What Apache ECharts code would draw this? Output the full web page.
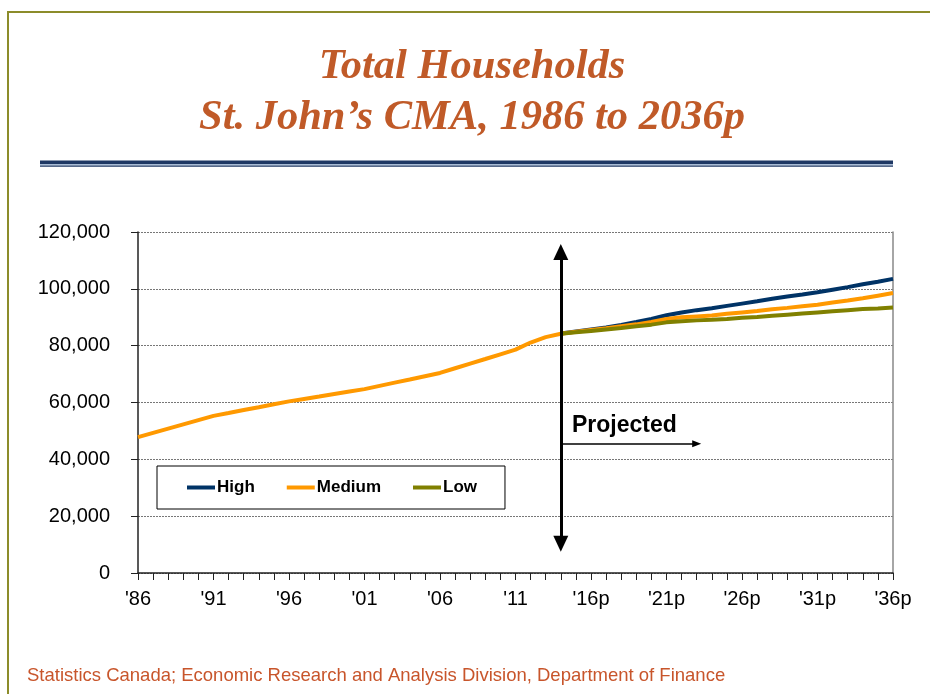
<!DOCTYPE html>
<html>
<head>
<meta charset="utf-8">
<script src="https://cdn.jsdelivr.net/npm/echarts@6/dist/echarts.min.js"></script>
<style>
    html, body { margin: 0; padding: 0; background: #fff; }
    #chart { width: 930px; height: 694px; }
</style>
</head>
<body>
<div id="chart"></div>
<script>
// years 1986..2036, one category per year
var years = [];
for (var y = 1986; y <= 2036; y++) { years.push(String(y)); }

// labels shown every 5 years
var xLabels = ["'86", "'91", "'96", "'01", "'06", "'11", "'16p", "'21p", "'26p", "'31p", "'36p"];

// Medium: history 1986-2014 + medium projection
var medium = [
    47800, 49300, 50800, 52300, 53800,            // 86-90
    55300, 56300, 57350, 58350, 59400,            // 91-95
    60400, 61250, 62100, 63000, 63850,            // 96-00
    64700, 65850, 67000, 68100, 69250,            // 01-05
    70400, 72050, 73700, 75300, 76950,            // 06-10
    78600, 81100, 83000, 84200, 84900,            // 11-15
    85500, 86100, 86800, 87500, 88300,            // 16-20
    89400, 90000, 90300, 90600, 91200,            // 21-25
    91700, 92200, 92800, 93300, 93900,            // 26-30
    94400, 95200, 95900, 96700, 97600,            // 31-35
    98500                                         // 36
];

// High / Low projections, 2014-2036
var high = [
    84300, 85000, 85700, 86400, 87300, 88300, 89400,
    90700, 91700, 92500, 93200, 94000,
    94800, 95600, 96500, 97300, 98000,
    98800, 99700, 100600, 101600, 102500,
    103500
];
var low = [
    84200, 84700, 85200, 85700, 86200, 86800, 87400,
    88200, 88600, 88900, 89100, 89400,
    89800, 90100, 90500, 90900, 91300,
    91700, 92100, 92500, 92900, 93100,
    93400
];

// pad projections with nulls before 2014
function pad(arr) {
    var out = [];
    for (var i = 0; i < years.length - arr.length; i++) out.push(null);
    return out.concat(arr);
}

var sans = '"Liberation Sans", Arial, sans-serif';

var option = {
    animation: false,
    grid: {
        left: 138,
        right: 37,
        top: 232,
        bottom: 121
    },
    legend: {
        data: ['High', 'Medium', 'Low'],
        left: 157,
        top: 466,
        orient: 'horizontal',
        backgroundColor: '#fff',
        borderColor: '#000',
        borderWidth: 1,
        padding: [13, 28, 13, 30],
        itemGap: 32,
        itemWidth: 28,
        itemHeight: 4,
        icon: 'rect',
        textStyle: {
            color: '#000',
            fontFamily: sans,
            fontWeight: 'bold',
            fontSize: 17,
            padding: [0, 0, 0, -3]
        }
    },
    graphic: [
        // page border
        { type: 'rect', shape: { x: 7, y: 11, width: 930, height: 2 }, style: { fill: '#8c8c2a' } },
        { type: 'rect', shape: { x: 7, y: 11, width: 2, height: 700 }, style: { fill: '#8c8c2a' } },
        // title rule
        { type: 'rect', shape: { x: 40, y: 160.5, width: 853, height: 3.5 }, style: { fill: '#1f3864' } },
        { type: 'rect', shape: { x: 40, y: 164, width: 853, height: 1.5 }, style: { fill: '#a9bcd6' } },
        { type: 'rect', shape: { x: 40, y: 165.5, width: 853, height: 1.2 }, style: { fill: '#1f3864' } },
        {
            type: 'text', x: 472, y: 42,
            style: {
                text: 'Total Households\nSt. John\u2019s CMA, 1986 to 2036p',
                fill: '#c05a28',
                font: 'italic bold 42.5px "Liberation Serif", "Times New Roman", serif',
                align: 'center',
                lineHeight: 51
            }
        },
        {
            type: 'text', left: 572, top: 414,
            style: {
                text: 'Projected',
                fill: '#000',
                font: 'bold 23px ' + sans
            }
        },
        {
            type: 'text', left: 27, top: 666,
            style: {
                text: 'Statistics Canada; Economic Research and Analysis Division, Department of Finance',
                fill: '#c8552b',
                font: '18.5px ' + sans
            }
        }
    ],
    xAxis: {
        type: 'category',
        data: years,
        boundaryGap: false,
        axisLine: { lineStyle: { color: '#222', width: 1.5 } },
        axisTick: {
            show: true,
            interval: 0,
            length: 7,
            lineStyle: { color: '#222', width: 1 }
        },
        axisLabel: {
            interval: function (index) { return index % 5 === 0; },
            formatter: function (val, index) { return xLabels[index / 5]; },
            margin: 16,
            color: '#000',
            fontFamily: sans,
            fontSize: 20
        },
        splitLine: { show: false }
    },
    yAxis: [
        {
            type: 'value',
            min: 0,
            max: 120000,
            interval: 20000,
            axisLine: { show: true, lineStyle: { color: '#222', width: 1.5 } },
            axisTick: { show: true, length: 7, lineStyle: { color: '#222' } },
            axisLabel: {
                margin: 28,
                color: '#000',
                fontFamily: sans,
                fontSize: 20,
                formatter: function (v) { return v.toLocaleString('en-US'); }
            },
            splitLine: {
                show: true,
                lineStyle: { color: '#777', type: [2, 1], width: 1 }
            }
        },
        {
            type: 'value',
            position: 'right',
            min: 0,
            max: 120000,
            interval: 20000,
            axisLine: { show: true, lineStyle: { color: '#888', width: 1.5 } },
            axisTick: { show: false },
            axisLabel: { show: false },
            splitLine: { show: false }
        }
    ],
    series: [
        {
            name: 'High',
            type: 'line',
            data: pad(high),
            showSymbol: false,
            symbol: 'none',
            lineStyle: { color: '#003366', width: 4 },
            itemStyle: { color: '#003366' }
        },
        {
            name: 'Medium',
            type: 'line',
            data: medium,
            showSymbol: false,
            symbol: 'none',
            lineStyle: { color: '#ff9900', width: 4 },
            itemStyle: { color: '#ff9900' },
            markLine: {
                silent: true,
                animation: false,
                label: { show: false },
                data: [
                    [
                        { coord: ['2014', 113000], symbol: 'triangle', symbolSize: [15, 16] },
                        { coord: ['2014', 10300], symbol: 'triangle', symbolSize: [15, 16] }
                    ],
                    [
                        { coord: ['2014', 45500], symbol: 'none', lineStyle: { width: 1.5 } },
                        { coord: ['2023', 45500], symbol: 'triangle', symbolSize: [7, 9], lineStyle: { width: 1.5 } }
                    ]
                ],
                lineStyle: { color: '#000', type: 'solid', width: 3 },
                emphasis: { disabled: true }
            }
        },
        {
            name: 'Low',
            type: 'line',
            data: pad(low),
            showSymbol: false,
            symbol: 'none',
            lineStyle: { color: '#808000', width: 4 },
            itemStyle: { color: '#808000' }
        }
    ]
};

var chart = echarts.init(document.getElementById('chart'));
chart.setOption(option);
</script>
</body>
</html>
